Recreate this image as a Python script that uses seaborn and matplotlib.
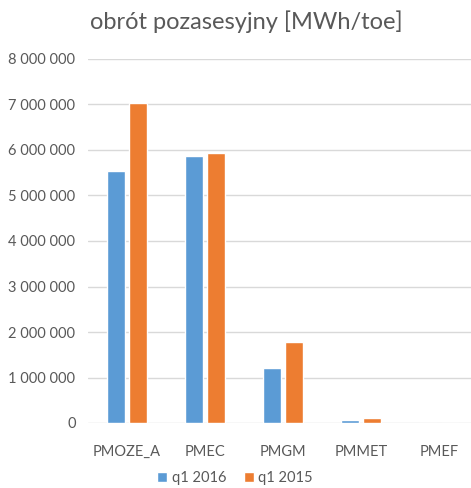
import pandas as pd
import seaborn as sns
import matplotlib.pyplot as plt
from matplotlib.ticker import FuncFormatter

# data
categories = ["PMOZE_A", "PMEC", "PMGM", "PMMET", "PMEF"]
q1_2016 = [5540000, 5870000, 1210000, 60000, 3000]
q1_2015 = [7030000, 5930000, 1770000, 120000, 5000]
series = ["q1 2016", "q1 2015"]
colors = ["#5B9BD5", "#ED7D31"]

df = pd.DataFrame({
    "category": categories * 2,
    "value": q1_2016 + q1_2015,
    "series": [series[0]] * len(categories) + [series[1]] * len(categories),
})

sns.set_style("white")
plt.rcParams["font.family"] = ["Lato", "DejaVu Sans"]

fig = plt.figure(figsize=(4.71, 4.88), dpi=100)
ax = fig.add_axes([88 / 471, (488 - 423) / 488, 390 / 471, 364 / 488])

sns.barplot(data=df, x="category", y="value", hue="series", palette=colors,
            width=0.56, gap=0.2, ax=ax, saturation=1)

ax.set_ylim(0, 8000000)
ax.set_yticks(range(0, 8000001, 1000000))
ax.yaxis.set_major_formatter(FuncFormatter(lambda v, p: f"{int(v):,}".replace(",", " ")))
ax.grid(axis="y", color="#D9D9D9", linewidth=1)
ax.set_axisbelow(True)
for s in ax.spines.values():
    s.set_visible(False)
ax.tick_params(axis="both", length=0, labelsize=10.5, colors="#595959")
ax.tick_params(axis="x", pad=16)
ax.tick_params(axis="y", pad=9)
ax.set_xlabel("")
ax.set_ylabel("")

fig.text(246 / 471, 1 - 22 / 488, "obrót pozasesyjny [MWh/toe]", ha="center", va="center",
         fontsize=17, color="#595959")

leg = ax.legend(loc="center", bbox_to_anchor=(235 / 471, 1 - 478 / 488), bbox_transform=fig.transFigure,
                ncol=2, frameon=False, fontsize=10.5, handlelength=0.7, handleheight=0.7,
                handletextpad=0.3, columnspacing=1.2)
for t in leg.get_texts():
    t.set_color("#595959")

plt.savefig("out.png", dpi=100)
